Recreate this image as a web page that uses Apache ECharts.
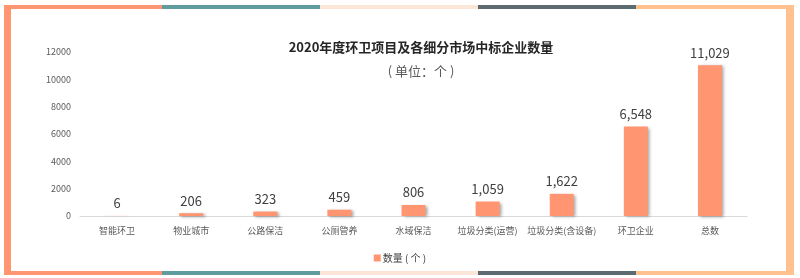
<!DOCTYPE html>
<html><head><meta charset="utf-8">
<script src="https://cdn.jsdelivr.net/npm/echarts@6/dist/echarts.min.js"></script>
<style>html,body{margin:0;padding:0;background:#fff}#c{width:800px;height:278px}</style>
</head><body><div id="c"></div>
<script>
const categories = ['智能环卫','物业城市','公路保洁','公厕管养','水域保洁','垃圾分类(运营)','垃圾分类(含设备)','环卫企业','总数'];
const values = [6,206,323,459,806,1059,1622,6548,11029];
const yTicks = [0,2000,4000,6000,8000,10000,12000];
const seriesName = '数量 ( 个 )';
const titleText = '2020年度环卫项目及各细分市场中标企业数量';
const subText = '( 单位：个 )';

const font = '"Noto Sans CJK SC", "Noto Sans", sans-serif';
const segColors = ['#FF9571','#5F9C9D','#FDE6D7','#5B6B6F','#FFC18F'];
const segX = [4,162,320,478,636,794];
const graphics = [];
for (let i=0;i<5;i++){
  graphics.push({type:'rect',shape:{x:segX[i],y:5,width:segX[i+1]-segX[i],height:4},style:{fill:segColors[i]},silent:true});
  graphics.push({type:'rect',shape:{x:segX[i],y:271,width:segX[i+1]-segX[i],height:4},style:{fill:segColors[i]},silent:true});
}
graphics.push({type:'rect',shape:{x:4,y:5,width:7,height:270},style:{fill:segColors[0]},silent:true});
graphics.push({type:'rect',shape:{x:786,y:5,width:8,height:270},style:{fill:segColors[4]},silent:true});

const chart = echarts.init(document.getElementById('c'));
chart.setOption({
  animation:false,
  textStyle:{fontFamily:font},
  graphic:graphics,
  title:[
    {text:titleText,left:416,top:36,textAlign:'center',textStyle:{fontSize:13,fontWeight:'bold',color:'#262626',fontFamily:font}},
    {text:subText,left:416,top:60,textAlign:'center',textStyle:{fontSize:13,fontWeight:'normal',color:'#595959',fontFamily:font}}
  ],
  legend:{data:[seriesName],bottom:10,left:'center',itemWidth:7,itemHeight:7,icon:'rect',itemGap:2,
    textStyle:{fontSize:10,color:'#404040',fontFamily:font,padding:[0,0,0,-3]}},
  grid:{left:80,right:53,top:52,bottom:62},
  xAxis:{type:'category',data:categories,
    axisLine:{lineStyle:{color:'#d9d9d9'}},axisTick:{show:false},
    axisLabel:{fontSize:9,color:'#595959',margin:10,interval:0,fontFamily:font}},
  yAxis:{type:'value',min:yTicks[0],max:yTicks[yTicks.length-1],interval:2000,
    splitLine:{show:false},axisLine:{show:false},axisTick:{show:false},
    axisLabel:{fontSize:9,color:'#595959',margin:9,fontFamily:font,formatter:v=>String(v)}},
  series:[{name:seriesName,type:'bar',data:values,barWidth:24,
    itemStyle:{color:'#FF9571',shadowColor:'rgba(0,0,0,0.35)',shadowBlur:3,shadowOffsetX:2,shadowOffsetY:1},
    label:{show:true,position:'top',distance:6,fontSize:13,color:'#404040',fontFamily:font,
      formatter:p=>p.value.toLocaleString('en-US')}}]
});
</script></body></html>
